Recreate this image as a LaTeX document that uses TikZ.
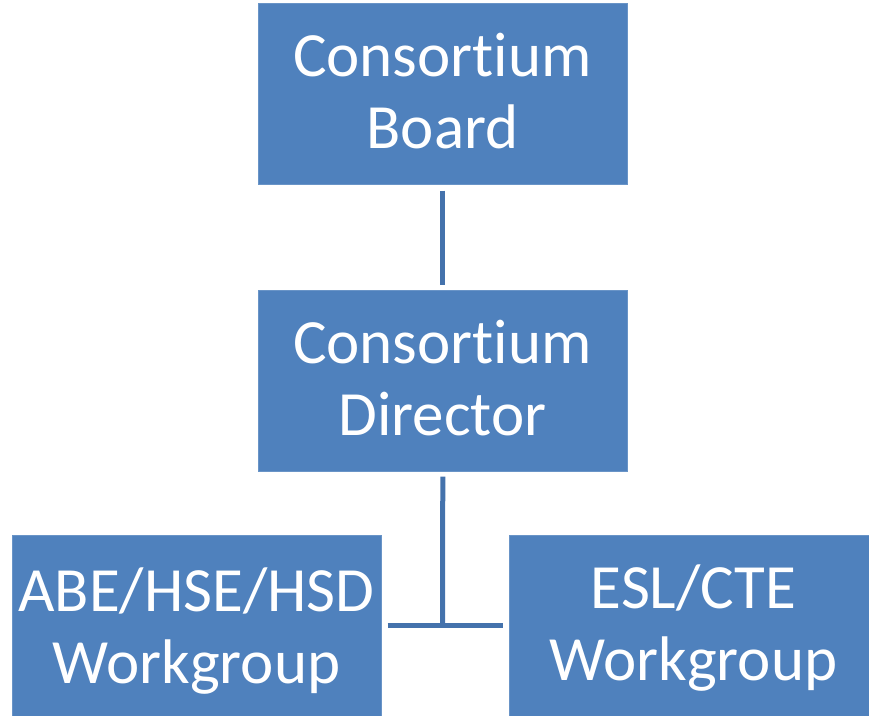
\documentclass[tikz,border=0pt]{standalone}
\usepackage{fontspec}
\setmainfont[Ligatures=NoCommon,RawFeature={-calt}]{Carlito}
\definecolor{boxfill}{RGB}{79,129,189}
\definecolor{linecol}{RGB}{68,114,172}
\begin{document}
\begin{tikzpicture}[x=1pt,y=-1pt,
  orgbox/.style={rectangle,fill=boxfill,draw=boxfill!85!white,line width=0.6pt,minimum width=369pt,minimum height=181pt,inner sep=0pt,anchor=north west},
  orgtext/.style={text=white,align=center,font=\fontsize{63}{72}\selectfont,inner sep=0pt,anchor=base},
  conn/.style={draw=linecol,line width=5pt}]
\clip (0,0) rectangle (869,715);
\useasboundingbox (0,0) rectangle (869,715);
\node[orgbox] (board) at (258,3) {};
\node[orgbox] (director) at (258,290) {};
\node[orgbox] (abe) at (12,535) {};
\node[orgbox] (esl) at (509,535) {};
\node[orgtext] (boardt) at (442.5,148) {Consort\kern0pt ium\\Board};
\node[orgtext] (directort) at (442.5,435) {Consort\kern0pt ium\\Director};
\node[orgtext] (abet) at (196.5,683) {ABE/HSE/HSD\\Workgroup};
\node[orgtext] (eslt) at (693.5,680) {ESL/CTE\\Workgroup};
\coordinate (j) at (442.5,625.5);
\draw[conn,shorten <=6pt,shorten >=5pt] (board.south) -- (director.north);
\draw[conn,shorten <=5pt] (director.south) -- (j);
\draw[conn,shorten <=6pt,shorten >=6pt] (abe.east |- j) -- (esl.west |- j);
\end{tikzpicture}
\end{document}
